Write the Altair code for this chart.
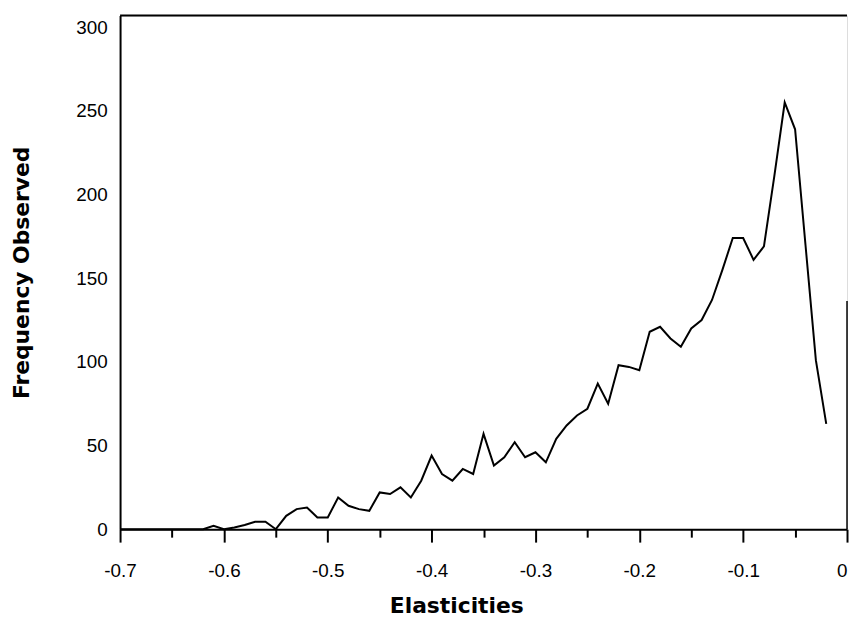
import altair as alt
import pandas as pd

elasticity = [-0.70, -0.69, -0.68, -0.67, -0.66, -0.65, -0.64, -0.63, -0.62, -0.61,
              -0.60, -0.59, -0.58, -0.57, -0.56, -0.55, -0.54, -0.53, -0.52, -0.51,
              -0.50, -0.49, -0.48, -0.47, -0.46, -0.45, -0.44, -0.43, -0.42, -0.41,
              -0.40, -0.39, -0.38, -0.37, -0.36, -0.35, -0.34, -0.33, -0.32, -0.31,
              -0.30, -0.29, -0.28, -0.27, -0.26, -0.25, -0.24, -0.23, -0.22, -0.21,
              -0.20, -0.19, -0.18, -0.17, -0.16, -0.15, -0.14, -0.13, -0.12, -0.11,
              -0.10, -0.09, -0.08, -0.07, -0.06, -0.05, -0.04, -0.03, -0.02]
frequency = [0, 0, 0, 0, 0, 0, 0, 0, 0, 2,
             0, 1, 2.5, 4.5, 4.5, 0, 8, 12, 13, 7,
             7, 19, 14, 12, 11, 22, 21, 25, 19, 29,
             44, 33, 29, 36, 33, 57, 38, 43, 52, 43,
             46, 40, 54, 62, 68, 72, 87, 75, 98, 97,
             95, 118, 121, 114, 109, 120, 125, 137, 155, 174,
             174, 161, 169, 211, 255, 239, 170, 101, 63]

x_ticks = [-0.7, -0.65, -0.6, -0.55, -0.5, -0.45, -0.4, -0.35, -0.3, -0.25,
           -0.2, -0.15, -0.1, -0.05, 0]
y_ticks = [0, 50, 100, 150, 200, 250, 300]

df = pd.DataFrame({"e": elasticity, "f": frequency})

W, H = 733, 518
major = "round(abs(datum.value)*20) % 2 == 0"

line = alt.Chart(df).mark_line(color="black", strokeWidth=2).encode(
    x=alt.X("e:Q",
            scale=alt.Scale(domain=[-0.7, 0], nice=False, zero=False),
            axis=alt.Axis(values=x_ticks, grid=False,
                          domainColor="black", domainWidth=2,
                          tickColor="black", tickWidth=2,
                          tickSize={"condition": {"test": major, "value": 13}, "value": 8},
                          labelExpr=major + " ? (datum.value == 0 ? '0' : '-0.' + round(abs(datum.value)*10)) : ''",
                          labelAlign={"condition": {"test": "datum.value == 0", "value": "right"}, "value": "center"},
                          labelFont="Liberation Sans", labelFontSize=19, labelColor="black",
                          labelPadding=20, labelFlush=False,
                          titleFont="DejaVu Sans", titleFontSize=22, titleFontWeight="bold",
                          titleColor="black", titleX=339, titleY=77,
                          titleAlign="center", titleBaseline="middle"),
            title="Elasticities"),
    y=alt.Y("f:Q",
            scale=alt.Scale(domain=[0, 307], nice=False),
            axis=alt.Axis(values=y_ticks, grid=False, ticks=False,
                          domainColor="black", domainWidth=2,
                          labelFont="Liberation Sans", labelFontSize=19, labelColor="black",
                          labelPadding=13,
                          titleFont="DejaVu Sans", titleFontSize=22, titleFontWeight="bold",
                          titleColor="black", titleX=-99, titleY=H / 2, titleAngle=-90,
                          titleAlign="center", titleBaseline="middle"),
            title="Frequency Observed"),
)

frame_data = alt.Data(values=[{}])
top = alt.Chart(frame_data).mark_rule(color="black", strokeWidth=2).encode(
    x=alt.value(0), x2=alt.value(W), y=alt.value(0))
right = alt.Chart(frame_data).mark_rule(color="black", strokeWidth=1.5).encode(
    x=alt.value(W), y=alt.value(288), y2=alt.value(H))

chart = alt.layer(line, top, right).properties(
    width=W, height=H,
    autosize=alt.AutoSizeParams(type="none"),
    padding={"left": 113, "top": 5, "right": 2, "bottom": 91},
).configure_view(stroke=None).configure(background="white")

chart.save("out.html", embed_options={"renderer": "svg", "actions": False})
